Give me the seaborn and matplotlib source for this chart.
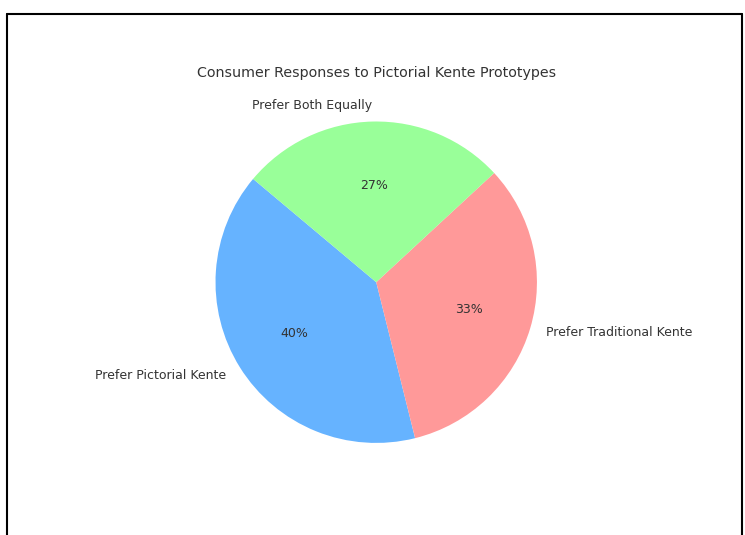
import matplotlib
matplotlib.use("Agg")
import matplotlib.pyplot as plt
import seaborn as sns

# data
labels = ['Prefer Pictorial Kente', 'Prefer Traditional Kente', 'Prefer Both Equally']
shares = [40, 33, 27]
colors = ['#66b3ff', '#ff9999', '#99ff99']

sns.set_style('white')
plt.rcParams['font.family'] = ['DejaVu Sans']

fig = plt.figure(figsize=(7.45, 5.35), dpi=100)
ax = fig.add_axes([0.235, 0.097, 0.54, 0.751])

ax.pie(shares, labels=labels, colors=colors, autopct='%1.0f%%', startangle=140,
       wedgeprops={'edgecolor': 'none', 'linewidth': 0},
       textprops={'fontsize': 9, 'color': '#333333'})
ax.set_aspect('equal')
ax.set_title('Consumer Responses to Pictorial Kente Prototypes', fontsize=10.3,
             color='#333333', pad=3)

# screenshot frame around the figure
fig.add_artist(plt.Line2D([0.0094, 0.0094], [0, 0.974], color='black', lw=1.5,
                          transform=fig.transFigure))
fig.add_artist(plt.Line2D([0.996, 0.996], [0, 0.974], color='black', lw=1.5,
                          transform=fig.transFigure))
fig.add_artist(plt.Line2D([0.0094, 0.996], [0.974, 0.974], color='black', lw=1.5,
                          transform=fig.transFigure))

fig.savefig('out.png', dpi=100)
